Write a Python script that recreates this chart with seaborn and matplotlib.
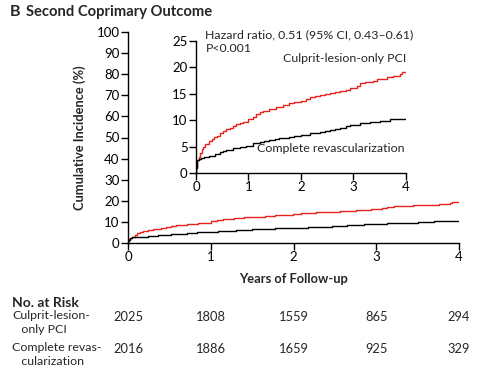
import matplotlib
matplotlib.use("Agg")
import matplotlib.pyplot as plt
import seaborn as sns
import pandas as pd

# Data
years_culprit = [0.0, 0.005, 0.01, 0.02, 0.05, 0.08, 0.11, 0.14, 0.18, 0.24, 0.30, 0.35, 0.40, 0.46,
                 0.52, 0.58, 0.65, 0.71, 0.77, 0.84, 0.90, 1.0, 1.08, 1.15, 1.22, 1.28, 1.40,
                 1.53, 1.65, 1.78, 1.87, 2.0, 2.09, 2.18, 2.27, 2.37, 2.46, 2.56, 2.65, 2.75,
                 2.85, 2.94, 3.07, 3.13, 3.22, 3.38, 3.44, 3.63, 3.76, 3.89, 3.92, 4.0]
inc_culprit = [0.0, 1.2, 1.8, 2.4, 3.0, 3.8, 4.6, 5.0, 5.5, 6.1, 6.4, 6.8, 7.1, 7.5,
               7.9, 8.3, 8.6, 8.9, 9.2, 9.4, 9.6, 10.2, 10.7, 11.2, 11.5, 11.8, 12.1,
               12.5, 12.9, 13.2, 13.4, 13.7, 14.0, 14.3, 14.5, 14.8, 14.9, 15.1, 15.3, 15.6,
               15.8, 16.1, 16.5, 17.1, 17.3, 17.5, 17.8, 18.1, 18.4, 18.8, 19.2, 19.2]
years_complete = [0.0, 0.005, 0.01, 0.02, 0.05, 0.10, 0.15, 0.24, 0.36, 0.46, 0.52, 0.58, 0.71,
                  0.83, 0.96, 1.09, 1.21, 1.30, 1.40, 1.50, 1.59, 1.78, 1.87, 2.0, 2.18, 2.37,
                  2.46, 2.56, 2.65, 2.75, 2.85, 2.94, 3.13, 3.32, 3.51, 3.70, 3.89, 4.0]
inc_complete = [0.0, 1.0, 1.6, 2.4, 2.7, 2.9, 3.0, 3.3, 3.6, 3.9, 4.1, 4.4, 4.8,
                5.0, 5.2, 5.6, 5.9, 6.1, 6.3, 6.5, 6.6, 6.9, 7.0, 7.2, 7.5, 7.8,
                8.0, 8.2, 8.4, 8.6, 8.9, 9.1, 9.4, 9.6, 9.9, 10.2, 10.3, 10.3]
groups = ["Culprit-lesion-only PCI", "Complete revascularization"]
risk_labels = ["Culprit-lesion-\n   only PCI", "Complete revas-\n   cularization"]
risk_times = [0, 1, 2, 3, 4]
risk_culprit = [2025, 1808, 1559, 865, 294]
risk_complete = [2016, 1886, 1659, 925, 329]

RED = "#e8231c"
df = pd.concat([
    pd.DataFrame({"t": years_culprit, "v": inc_culprit, "g": groups[0]}),
    pd.DataFrame({"t": years_complete, "v": inc_complete, "g": groups[1]}),
])
pal = {groups[0]: RED, groups[1]: "black"}

sns.set_theme(style="ticks")
plt.rcParams["font.family"] = ["Lato", "DejaVu Sans"]

fig = plt.figure(figsize=(4.85, 3.75), dpi=100)
W, H = 485, 375

def fx(px):
    return px / W

def fy(py):
    return 1 - py / H

ax = fig.add_axes([fx(128), fy(243), fx(459) - fx(128), fy(32) - fy(243)])
sns.lineplot(data=df, x="t", y="v", hue="g", palette=pal, drawstyle="steps-post",
             linewidth=1.0, legend=False, ax=ax, estimator=None)
ax.set_xlim(0, 4)
ax.set_ylim(0, 100)
ax.set_xticks(risk_times)
ax.set_yticks(range(0, 101, 10))
ax.set_xlabel("Years of Follow-up", fontsize=9.3, fontweight="bold", labelpad=7)
ax.set_ylabel("Cumulative Incidence (%)", fontsize=9.3, fontweight="bold", labelpad=8)

ins = fig.add_axes([fx(196), fy(173), fx(406) - fx(196), fy(41) - fy(173)])
sns.lineplot(data=df, x="t", y="v", hue="g", palette=pal, drawstyle="steps-post",
             linewidth=1.0, legend=False, ax=ins, estimator=None)
ins.set_xlim(0, 4)
ins.set_ylim(0, 25)
ins.set_xticks(risk_times)
ins.set_yticks(range(0, 26, 5))
ins.set_xlabel("")
ins.set_ylabel("")

for a in (ax, ins):
    sns.despine(ax=a)
    for s in ("left", "bottom"):
        a.spines[s].set_linewidth(1.0)
        a.spines[s].set_color("black")
    a.tick_params(direction="out", length=5, width=1.0, labelsize=9.5, pad=1, colors="black")
    a.patch.set_alpha(0)

fs = 8.9
ins.text(0.18, 26.2, "Hazard ratio, 0.51 (95% CI, 0.43\u20130.61)", fontsize=fs, va="center", ha="left")
ins.text(0.18, 23.5, "P<0.001", fontsize=fs, va="center", ha="left")
ins.text(4.0, 21.6, groups[0], fontsize=fs, va="center", ha="right")
ins.text(3.98, 4.6, groups[1], fontsize=fs, va="center", ha="right")

fig.text(fx(10), fy(12), "B", fontsize=11.5, fontweight="bold", va="center", ha="left")
fig.text(fx(26), fy(12), "Second Coprimary Outcome", fontsize=10.6, fontweight="bold", va="center", ha="left")

fig.text(fx(12), fy(303), "No. at Risk", fontsize=10, fontweight="bold", va="center", ha="left")
row_y = [317, 349]
for lab, ypx, vals in zip(risk_labels, row_y, [risk_culprit, risk_complete]):
    fig.text(fx(12), fy(ypx - 7), lab, fontsize=8.9, va="top", ha="left", linespacing=1.3)
    for t, v in zip(risk_times, vals):
        xpx = 128 + t * (459 - 128) / 4
        fig.text(fx(xpx), fy(ypx), str(v), fontsize=9.3, va="center", ha="center")

fig.savefig("out.png", dpi=100)
